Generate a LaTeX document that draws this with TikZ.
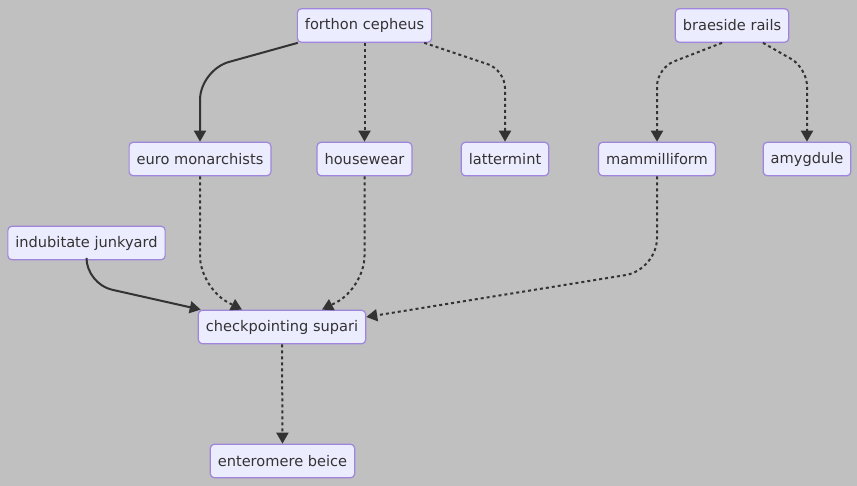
\documentclass[tikz,border=0pt]{standalone}
\usepackage{fontspec}
\setmainfont{DejaVu Sans}
\usetikzlibrary{arrows.meta}
\definecolor{bgc}{HTML}{C0C0C0}
\definecolor{nfill}{HTML}{ECECFF}
\definecolor{nline}{HTML}{9F85DB}
\definecolor{ecol}{HTML}{333333}
\tikzset{
  box/.style={draw=nline, fill=nfill, line width=1.2pt, rounded corners=4pt,
    inner xsep=7.5pt, inner ysep=0pt, minimum height=33.5pt,
    font=\fontsize{14.6pt}{16pt}\selectfont, text=ecol},
  link/.style={draw=ecol, line width=2pt, -{Triangle[length=11pt,width=12pt]}},
  dotlink/.style={link, dash pattern=on 3pt off 3pt}
}
\begin{document}
\begin{tikzpicture}[x=1pt,y=-1pt]
\fill[bgc] (0,0) rectangle (857,486);
\useasboundingbox (0,0) rectangle (857,486);

\node[box] (fc) at (364.5,25.5) {forthon cepheus};
\node[box] (br) at (732,25.5) {braeside rails};
\node[box] (eu) at (200,159) {euro monarchists};
\node[box] (hw) at (364.5,159) {housewear};
\node[box] (lm) at (505,159) {lattermint};
\node[box] (mm) at (657,159) {mammilliform};
\node[box] (am) at (807,159) {amygdule};
\node[box] (ij) at (86.5,243) {indubitate junkyard};
\node[box] (cs) at (282,327) {checkpointing supari};
\node[box] (eb) at (282.5,461) {enteromere beice};

\draw[link, rounded corners=30pt] ([xshift=1pt]fc.south west) -- (eu.north |- 0,70) -- (eu.north);
\draw[dotlink] (fc.south) -- (hw.north);
\draw[dotlink, rounded corners=18pt] ([xshift=-8pt]fc.south east) -- (lm.north |- 0,70) -- (lm.north);
\draw[dotlink, rounded corners=18pt] ([xshift=-10pt]br.south) -- (mm.north |- 0,68) -- (mm.north);
\draw[dotlink, rounded corners=18pt] ([xshift=31pt]br.south) -- (am.north |- 0,68) -- (am.north);

\draw[dotlink, rounded corners=32pt] (eu.south) -- (eu.south |- 0,288) -- ([xshift=-40pt]cs.north);
\draw[dotlink, rounded corners=32pt] (hw.south) -- (hw.south |- 0,288) -- ([xshift=40pt]cs.north);
\draw[link, rounded corners=26pt] (ij.south) -- (ij.south |- 0,284) -- ([xshift=3pt]cs.north west);
\draw[dotlink, rounded corners=32pt] (mm.south) -- (mm.south |- 0,270) -- ([yshift=10pt]cs.east);
\draw[dotlink] (cs.south) -- (eb.north);
\end{tikzpicture}
\end{document}
